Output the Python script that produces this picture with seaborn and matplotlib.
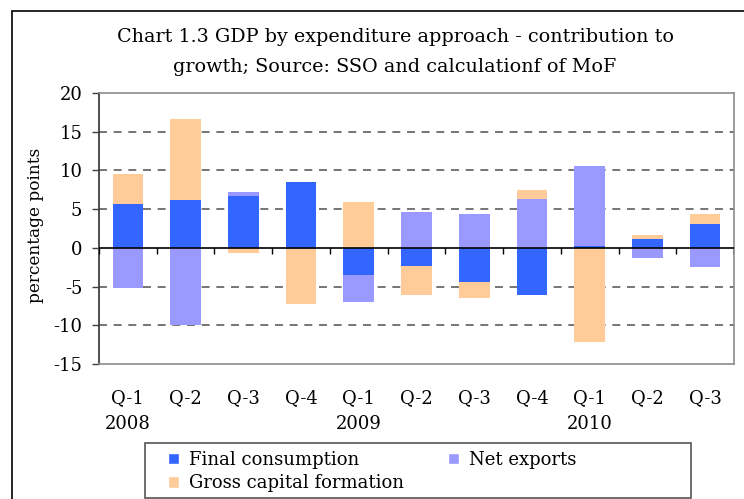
import numpy as np
import matplotlib
matplotlib.use("Agg")
import matplotlib.pyplot as plt
from matplotlib.patches import Patch, Rectangle
import seaborn as sns

# quarters 2008 Q-1 .. 2010 Q-3
periods = ["2008 Q-1", "2008 Q-2", "2008 Q-3", "2008 Q-4",
           "2009 Q-1", "2009 Q-2", "2009 Q-3", "2009 Q-4",
           "2010 Q-1", "2010 Q-2", "2010 Q-3"]
tick_labels = ["Q-1\n2008", "Q-2", "Q-3", "Q-4",
               "Q-1\n2009", "Q-2", "Q-3", "Q-4",
               "Q-1\n2010", "Q-2", "Q-3"]

final_consumption = [5.7, 6.2, 6.7, 8.5, -3.55, -2.3, -4.45, -6.1, 0.3, 1.2, 3.1]
net_exports = [-5.2, -9.9, 0.5, -0.2, -3.4, 4.65, 4.4, 6.3, 10.25, -1.25, -2.5]
gross_capital = [3.85, 10.4, -0.6, -7.1, 5.95, -3.85, -2.05, 1.15, -12.15, 0.5, 1.3]

series_names = ["Final consumption", "Net exports", "Gross capital formation"]
colors = ["#3366FF", "#9999FF", "#FFCC99"]

sns.set_theme(style="white")
plt.rcParams["font.family"] = ["DejaVu Serif"]
plt.rcParams["axes.unicode_minus"] = False
plt.rcParams["text.color"] = "black"
plt.rcParams["axes.labelcolor"] = "black"

fig = plt.figure(figsize=(7.44, 4.99), dpi=100)
ax = fig.add_axes([99 / 744, 1 - 364 / 499, 635 / 744, 271 / 499])

# stack positives and negatives separately (order: FC, NX, GCF)
layers = np.array([final_consumption, net_exports, gross_capital])
for sign in (1, -1):
    part = np.where(layers * sign > 0, layers, 0.0)
    cum = np.cumsum(part, axis=0)
    # draw outermost layer first so inner ones cover it
    for i in (2, 1, 0):
        heights = np.where(part[i] != 0, cum[i], 0.0)
        sns.barplot(x=periods, y=heights, color=colors[i], saturation=1,
                    width=0.53, errorbar=None, linewidth=0, ax=ax, zorder=2)

ax.set_ylim(-15, 20)
ax.set_xlim(-0.5, 10.5)
ax.set_yticks(range(-15, 21, 5))
ax.set_xticks(range(len(periods)))
ax.set_xticklabels(tick_labels)
for t in ax.get_xticklabels():
    t.set_linespacing(1.55)

# dashed gridlines
for y in (15, 10, 5, -5, -10):
    ax.axhline(y, color="#505050", lw=1.1, ls=(0, (5.2, 4.4)), zorder=1)
ax.axhline(0, color="black", lw=1.2, zorder=3)
ax.vlines(np.arange(-0.5, 11), 0, -0.85, color="black", lw=1, zorder=3)

for side in ("top", "right", "bottom"):
    ax.spines[side].set_color("#8c8c8c")
    ax.spines[side].set_linewidth(1.2)
ax.spines["left"].set_color("#404040")
ax.spines["left"].set_linewidth(1.3)

ax.tick_params(axis="y", left=True, length=5, width=1, color="#404040",
               labelcolor="black", labelsize=13, pad=7)
ax.tick_params(axis="x", bottom=False, length=0, labelcolor="black",
               labelsize=13, pad=18)
ax.set_ylabel("percentage points", fontsize=12.2)
ax.yaxis.set_label_coords(-0.087, 0.513)
ax.set_xlabel("")

fig.text(0.531, 1 - 37 / 499, "Chart 1.3 GDP by expenditure approach - contribution to",
         ha="center", va="center", fontsize=13.8)
fig.text(0.531, 1 - 67 / 499, "growth; Source: SSO and calculationf of MoF",
         ha="center", va="center", fontsize=13.8)

# outer chart frame
fig.patches.append(Rectangle((12 / 744, -0.2), 1.0, 1.2 - 11 / 499,
                             transform=fig.transFigure, fill=False,
                             edgecolor="black", lw=1.2))
# legend frame
fig.patches.append(Rectangle((145 / 744, 1 - 498 / 499), 546 / 744, 55 / 499,
                             transform=fig.transFigure, fill=False,
                             edgecolor="#555555", lw=1.2))

handles = [Patch(facecolor=colors[0], label=series_names[0]),
           Patch(facecolor=colors[2], label=series_names[2]),
           Patch(facecolor=colors[1], label=series_names[1])]
fig.legend(handles=handles, ncol=2, loc="upper left",
           bbox_to_anchor=(168 / 744, 1 - 451 / 499),
           frameon=False, fontsize=13,
           handlelength=0.6, handleheight=0.6, handletextpad=0.55,
           labelspacing=0.3, borderpad=0, borderaxespad=0,
           columnspacing=2.45)

fig.savefig("out.png", dpi=100)
